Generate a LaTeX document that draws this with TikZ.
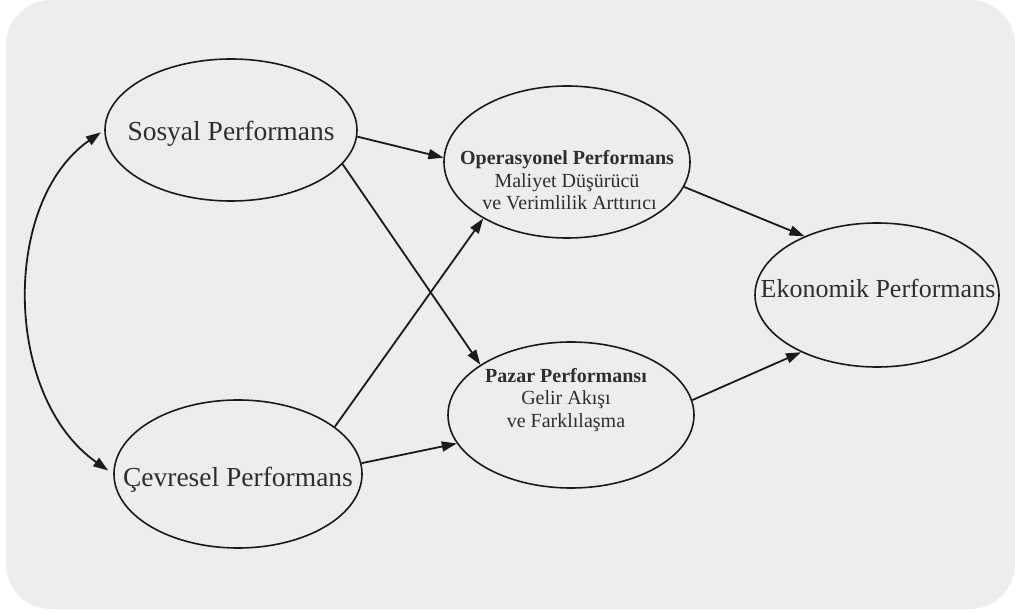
\documentclass[tikz,border=0pt]{standalone}
\usepackage{fontspec}
\setmainfont{Liberation Serif}
\usetikzlibrary{shapes.geometric,arrows.meta}
\definecolor{bg}{HTML}{EDEDED}
\definecolor{ink}{HTML}{1A1A1A}
\definecolor{txt}{HTML}{2E2E2E}
\begin{document}
\begin{tikzpicture}[x=1pt,y=-1pt,
  oval/.style={ellipse,draw=ink,line width=1.6pt,inner sep=0pt},
  link/.style={draw=ink,line width=1.8pt,-{Triangle[length=15pt,width=10pt]}},
  big/.style={font=\fontsize{27.5}{30}\selectfont,text=txt,anchor=base,inner sep=0pt},
  small/.style={font=\fontsize{20}{22.5}\selectfont,text=txt,anchor=base,align=center,inner sep=0pt}]
\useasboundingbox (0,0) rectangle (1015,612);
\fill[bg,rounded corners=45pt] (6,0) rectangle (1015,609);
% ellipses
\node[oval,minimum width=252pt,minimum height=142pt] (sos) at (231,130) {};
\node[oval,minimum width=248pt,minimum height=148pt] (cev) at (238,474) {};
\node[oval,minimum width=246pt,minimum height=152pt] (op) at (567,162) {};
\node[oval,minimum width=246pt,minimum height=146pt] (pz) at (571,415) {};
\node[oval,minimum width=244pt,minimum height=144pt] (ek) at (877,295) {};
% texts
\node[big] (sosT) at (231,141) {Sosyal Performans};
\node[big] (cevT) at (238,486) {Çevresel Performans};
\node[big,font=\fontsize{26}{30}\selectfont] (ekT) at (878,298) {Ekonomik Performans};
\node[small] (opT) at (567,210) {\textbf{Operasyonel Performans}\\Maliyet Düşürücü\\\hspace{5pt}ve Verimlilik Arttırıcı};
\node[small] (pzT) at (566,427) {\textbf{Pazar Performansı}\\Gelir Akışı\\ve Farklılaşma};
% connectors
\draw[link] (sos.-3) -- (op.178);
\draw[link] (sos.-17) -- (pz.151);
\draw[link] (cev.26) -- (op.214);
\draw[link] (cev.5) -- (pz.194);
\draw[link] (op.-12) -- (ek.141);
\draw[link] (pz.7) -- (ek.217);
\draw[link,{Triangle[length=15pt,width=10pt]}-{Triangle[length=15pt,width=10pt]},shorten <=4pt,shorten >=6pt]
  (sos.180) to[out=215,in=145,out distance=126pt,in distance=134pt] (cev.180);
\end{tikzpicture}
\end{document}
